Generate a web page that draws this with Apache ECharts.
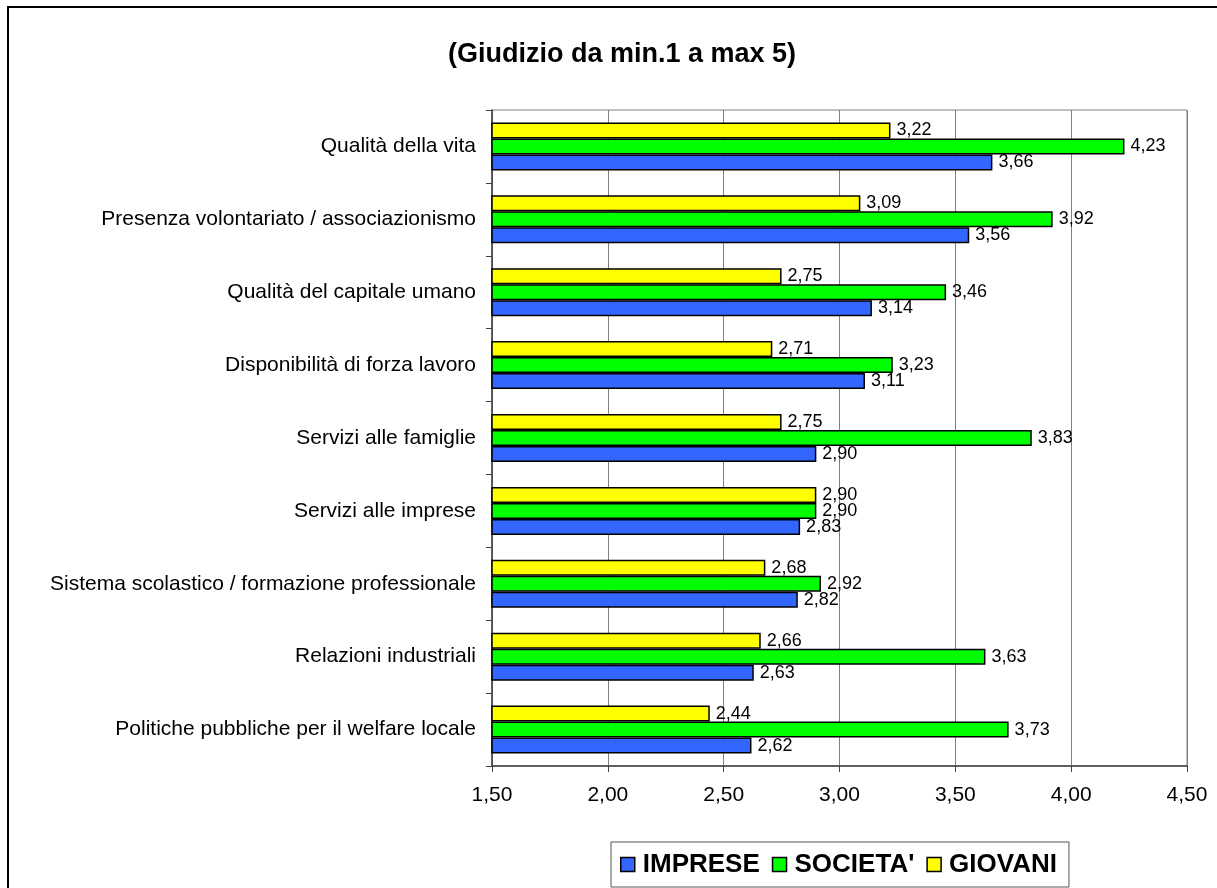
<!DOCTYPE html>
<html>
<head>
<meta charset="utf-8">
<script src="https://cdn.jsdelivr.net/npm/echarts@6/dist/echarts.min.js"></script>
<style>
  html, body { margin: 0; padding: 0; background: #fff; }
  #chart { width: 1217px; height: 888px; }
</style>
</head>
<body>
<div id="chart"></div>
<script>
// Survey ratings (scale 1 to 5), categories listed top to bottom
const categories = [
  'Qualità della vita',
  'Presenza volontariato / associazionismo',
  'Qualità del capitale umano',
  'Disponibilità di forza lavoro',
  'Servizi alle famiglie',
  'Servizi alle imprese',
  'Sistema scolastico / formazione professionale',
  'Relazioni industriali',
  'Politiche pubbliche per il welfare locale'
];
const imprese = [3.66, 3.56, 3.14, 3.11, 2.90, 2.83, 2.82, 2.63, 2.62];
const societa = [4.23, 3.92, 3.46, 3.23, 3.83, 2.90, 2.92, 3.63, 3.73];
const giovani = [3.22, 3.09, 2.75, 2.71, 2.75, 2.90, 2.68, 2.66, 2.44];
const seriesNames = ['IMPRESE', "SOCIETA'", 'GIOVANI'];
const titleText = '(Giudizio da min.1 a max 5)';

const FONT = '"Liberation Sans", Arial, sans-serif';
const fmt = v => Number(v).toFixed(2).replace('.', ',');

function barSeries(name, data, color) {
  return {
    name: name,
    type: 'bar',
    data: data,
    barWidth: 16,
    barGap: '0%',
    itemStyle: { color: color, borderColor: '#000', borderWidth: 1.5 },
    label: {
      show: true,
      position: 'right',
      distance: 6,
      color: '#000',
      fontFamily: FONT,
      fontSize: 18,
      formatter: p => fmt(p.value)
    }
  };
}

const chart = echarts.init(document.getElementById('chart'), null, { renderer: 'canvas' });
chart.setOption({
  animation: false,
  backgroundColor: '#fff',
  title: {
    text: titleText,
    left: 443,
    top: 36,
    textStyle: { fontFamily: FONT, fontWeight: 'bold', fontSize: 27, color: '#000' }
  },
  graphic: [{
    type: 'rect',
    shape: { x: 8, y: 7, width: 1400, height: 1000 },
    style: { fill: 'none', stroke: '#000', lineWidth: 2 },
    silent: true
  }],
  legend: {
    data: seriesNames,
    left: 611,
    top: 842,
    orient: 'horizontal',
    itemWidth: 14,
    itemHeight: 14,
    itemGap: 12,
    padding: [9, 12, 9, 9],
    borderColor: '#555',
    borderWidth: 1,
    icon: 'rect',
    itemStyle: { borderColor: '#000', borderWidth: 1.5 },
    textStyle: { fontFamily: FONT, fontWeight: 'bold', fontSize: 26, color: '#000', padding: [0, 0, 0, 3], lineHeight: 27 }
  },
  grid: {
    left: 492, right: 30, top: 110, bottom: 122,
    show: true, borderColor: '#808080', borderWidth: 1,
    containLabel: false
  },
  xAxis: {
    type: 'value',
    min: 1.5, max: 4.5, interval: 0.5,
    axisLine: { show: true, lineStyle: { color: '#404040', width: 1.5 } },
    axisTick: { show: true, length: 6, lineStyle: { color: '#404040' } },
    splitLine: { show: true, lineStyle: { color: '#808080', width: 1 } },
    axisLabel: { fontFamily: FONT, fontSize: 21, color: '#000', margin: 19, formatter: fmt }
  },
  yAxis: {
    type: 'category',
    data: categories,
    inverse: true,
    axisLine: { show: true, lineStyle: { color: '#404040', width: 1.5 } },
    axisTick: { show: true, length: 6, lineStyle: { color: '#404040' } },
    splitLine: { show: false },
    axisLabel: { fontFamily: FONT, fontSize: 21, color: '#000', margin: 16 }
  },
  // Bars in each band run top to bottom: GIOVANI, SOCIETA', IMPRESE
  series: [
    barSeries(seriesNames[2], giovani, '#FFFF00'),
    barSeries(seriesNames[1], societa, '#00FF00'),
    barSeries(seriesNames[0], imprese, '#3366FF')
  ]
});
</script>
</body>
</html>
